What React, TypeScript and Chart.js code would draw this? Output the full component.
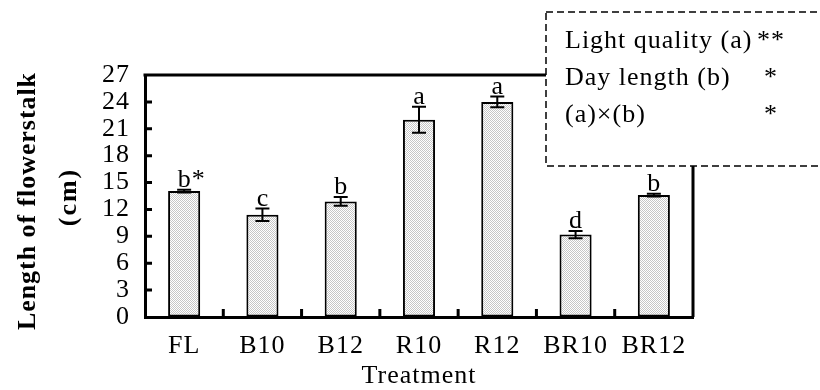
import React, { useEffect, useRef } from 'react';
import { Chart, registerables } from 'chart.js';

Chart.register(...registerables);

// Flower-stalk length per light treatment (cm), with standard errors
const treatments = ['FL', 'B10', 'B12', 'R10', 'R12', 'BR10', 'BR12'];
const stalkLength = [14.05, 11.4, 12.9, 22.0, 24.0, 9.2, 13.6];
const stalkError = [0.15, 0.7, 0.5, 1.45, 0.6, 0.4, 0.15];
const significanceLetters = ['b*', 'c', 'b', 'a', 'a', 'd', 'b'];

// Y axis range and tick step
const yMin = 0;
const yMax = 27;
const yStep = 3;

// Two-way ANOVA summary shown in the dashed box
const anovaFactors = ['Light quality (a)', 'Day length (b)', '(a)×(b)'];
const anovaStars = ['**', '*', '*'];

const SERIF = "'Liberation Serif', 'Times New Roman', serif";
const FONT_SIZE = 26;

function makeStipple(): CanvasPattern | string {
  const c = document.createElement('canvas');
  c.width = 2;
  c.height = 2;
  const g = c.getContext('2d');
  if (!g) return '#e0e0e0';
  g.fillStyle = '#ffffff';
  g.fillRect(0, 0, 2, 2);
  g.fillStyle = '#c6c6c6';
  g.fillRect(0, 0, 1, 1);
  g.fillRect(1, 1, 1, 1);
  const p = g.createPattern(c, 'repeat');
  return p || '#e0e0e0';
}

const decorPlugin = {
  id: 'decor',
  beforeDraw(chart: any) {
    chart.ctx.letterSpacing = '1px';
  },
  afterDatasetsDraw(chart: any) {
    const ctx = chart.ctx as CanvasRenderingContext2D;
    const y = chart.scales.y;
    const meta = chart.getDatasetMeta(0);
    ctx.save();
    ctx.strokeStyle = '#000';
    ctx.lineWidth = 2;
    ctx.fillStyle = '#000';
    ctx.font = `${FONT_SIZE}px ${SERIF}`;
    ctx.textBaseline = 'alphabetic';
    ctx.textAlign = 'left';
    meta.data.forEach((bar: any, i: number) => {
      const cx = bar.x;
      const hi = y.getPixelForValue(stalkLength[i] + stalkError[i]);
      const lo = y.getPixelForValue(stalkLength[i] - stalkError[i]);
      ctx.beginPath();
      ctx.moveTo(cx, hi);
      ctx.lineTo(cx, lo);
      ctx.moveTo(cx - 7, hi);
      ctx.lineTo(cx + 7, hi);
      ctx.moveTo(cx - 7, lo);
      ctx.lineTo(cx + 7, lo);
      ctx.stroke();
      const label = significanceLetters[i];
      const first = ctx.measureText(label[0]).width - 1;
      ctx.fillText(label, cx - first / 2, hi - 3);
    });
    ctx.restore();
  },
  afterDraw(chart: any) {
    const ctx = chart.ctx as CanvasRenderingContext2D;
    const area = chart.chartArea;
    const x = chart.scales.x;
    const y = chart.scales.y;
    ctx.save();
    ctx.strokeStyle = '#000';
    ctx.lineWidth = 3;
    ctx.lineCap = 'butt';

    // top and right frame lines
    ctx.beginPath();
    ctx.moveTo(area.left - 1.5, area.top);
    ctx.lineTo(area.right + 1.5, area.top);
    ctx.moveTo(area.right, area.top);
    ctx.lineTo(area.right, area.bottom);
    ctx.stroke();

    // inward tick marks on the y axis
    ctx.beginPath();
    for (let v = yMin + yStep; v < yMax; v += yStep) {
      const py = y.getPixelForValue(v);
      ctx.moveTo(area.left, py);
      ctx.lineTo(area.left + 7, py);
    }
    // inward tick marks between categories on the x axis
    for (let i = 0; i < treatments.length - 1; i++) {
      const px = (x.getPixelForValue(i) + x.getPixelForValue(i + 1)) / 2;
      ctx.moveTo(px, area.bottom);
      ctx.lineTo(px, area.bottom - 8);
    }
    ctx.stroke();

    // x axis title
    ctx.fillStyle = '#000';
    ctx.font = `${FONT_SIZE}px ${SERIF}`;
    ctx.textAlign = 'center';
    ctx.textBaseline = 'alphabetic';
    ctx.fillText('Treatment', (area.left + area.right) / 2, 383);

    // y axis title (two lines, rotated)
    ctx.save();
    ctx.translate(35, 201);
    ctx.rotate(-Math.PI / 2);
    ctx.font = `bold ${FONT_SIZE}px ${SERIF}`;
    ctx.letterSpacing = '1px';
    ctx.fillText('Length of flowerstalk', 0, 0, 258);
    ctx.restore();
    ctx.save();
    ctx.translate(76, 197);
    ctx.rotate(-Math.PI / 2);
    ctx.font = `bold ${FONT_SIZE}px ${SERIF}`;
    ctx.letterSpacing = '2px';
    ctx.fillText('(cm)', 0, 0);
    ctx.restore();

    // dashed ANOVA box, painted over the frame corner
    const bx = 546;
    const by = 12;
    const bw = 290;
    const bh = 154;
    ctx.fillStyle = '#fff';
    ctx.fillRect(bx, by, bw, bh);
    ctx.setLineDash([7, 4]);
    ctx.lineWidth = 1.5;
    ctx.strokeRect(bx, by, bw, bh);
    ctx.setLineDash([]);

    ctx.fillStyle = '#000';
    ctx.font = `${FONT_SIZE}px ${SERIF}`;
    const baselines = [48, 85, 122];
    anovaFactors.forEach((t, i) => {
      ctx.textAlign = 'left';
      ctx.fillText(t, 565, baselines[i]);
      if (anovaStars[i].length > 1) {
        ctx.fillText(anovaStars[i], 757, baselines[i]);
      } else {
        ctx.textAlign = 'center';
        ctx.fillText(anovaStars[i], 771, baselines[i]);
      }
    });
    ctx.restore();
  },
};

export default function App() {
  const canvasRef = useRef<HTMLCanvasElement | null>(null);

  useEffect(() => {
    const canvas = canvasRef.current;
    if (!canvas) return;
    const chart = new Chart(canvas, {
      type: 'bar',
      data: {
        labels: treatments,
        datasets: [
          {
            data: stalkLength,
            backgroundColor: makeStipple() as any,
            borderColor: '#000',
            borderWidth: 2,
            borderSkipped: false,
            barPercentage: 0.41,
            categoryPercentage: 1,
          },
        ],
      },
      options: {
        responsive: false,
        animation: false,
        events: [],
        layout: { padding: { left: 0, right: 127, top: 75, bottom: 0 } },
        plugins: {
          legend: { display: false },
          tooltip: { enabled: false },
        },
        scales: {
          x: {
            grid: { display: true, drawOnChartArea: false, drawTicks: false },
            border: { display: true, color: '#000', width: 3 },
            ticks: {
              color: '#000',
              font: { family: SERIF, size: FONT_SIZE },
              padding: 14,
              maxRotation: 0,
              autoSkip: false,
            },
            afterFit(scale: any) {
              scale.height = 73;
            },
          },
          y: {
            min: yMin,
            max: yMax,
            grid: { display: true, drawOnChartArea: false, drawTicks: false },
            border: { display: true, color: '#000', width: 3 },
            ticks: {
              stepSize: yStep,
              autoSkip: false,
              color: '#000',
              font: { family: SERIF, size: FONT_SIZE },
              padding: 15,
            },
            afterFit(scale: any) {
              scale.width = 145;
            },
          },
        },
      },
      plugins: [decorPlugin],
    });
    return () => chart.destroy();
  }, []);

  return (
    <div style={{ position: 'fixed', left: 0, top: 0, width: 820, height: 390, background: '#fff' }}>
      <canvas ref={canvasRef} width={820} height={390} style={{ display: 'block' }} />
    </div>
  );
}
